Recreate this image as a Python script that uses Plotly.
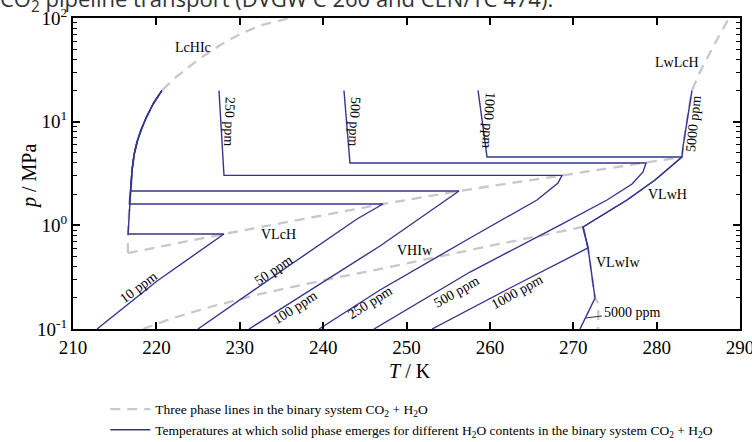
import plotly.graph_objects as go

# ---------------- data (T in K, p in MPa) ----------------
# solid branch along the LcHIc line (shared by 10, 50, 100 ppm)
lchic_T = [216.60, 216.76, 216.91, 217.08, 217.32, 217.68, 218.16, 218.76, 219.60, 220.67]
lchic_p = [0.825, 1.606, 2.144, 3.418, 4.77, 6.37, 8.31, 10.85, 14.8, 20.0]

# low-pressure branches (frost lines) of each H2O content
diag10_T = [228.11, 220.08, 212.88]
diag10_p = [0.825, 0.2904, 0.1]
diag50_T = [247.18, 244.06, 236.03, 224.99]
diag50_p = [1.606, 1.151, 0.4143, 0.1]
diag100_T = [256.30, 252.82, 246.82, 231.11]
diag100_p = [2.144, 1.374, 0.632, 0.1]
diag250_T = [268.65, 268.17, 265.65, 257.62, 246.82, 239.51]
diag250_p = [3.03, 2.561, 1.755, 0.755, 0.2378, 0.1]
diag500_T = [278.73, 278.37, 277.05, 274.05, 268.41, 257.62, 246.10]
diag500_p = [3.99, 3.27, 2.504, 1.755, 1.007, 0.3546, 0.1]
diag1000_T = [271.77, 262.41, 253.06]
diag1000_p = [0.605, 0.2486, 0.1]

# high-pressure (liquid CO2) branches
up250_T = [227.51, 228.11]
up250_p = [20.0, 3.03]
up500_T = [242.50, 243.22]
up500_p = [20.0, 3.99]
up1000_T = [258.58, 259.66]
up1000_p = [20.0, 4.56]
up5000_T = [284.24, 283.64, 283.16, 283.04]
up5000_p = [20.0, 10.4, 5.69, 4.56]

# VLwH and VLwIw segments (shared by 1000 / 5000 ppm)
vlwh_T = [283.04, 279.81, 276.45, 271.17]
vlwh_p = [4.56, 2.737, 1.755, 0.964]
vlwiw_T = [271.17, 271.77, 272.61, 270.81]
vlwiw_p = [0.964, 0.605, 0.199, 0.1]

# three phase lines of the binary system CO2 + H2O
g_lchic_T = [216.58] + lchic_T + [222.23, 224.03, 225.83, 227.87, 230.03, 232.67, 236.03]
g_lchic_p = [0.54] + lchic_p + [26.4, 34.4, 44.0, 56.1, 70.1, 85.6, 100.0]
g_vlch_T = [216.58, 228.11, 247.18, 256.30, 268.65, 278.73, 283.04]
g_vlch_p = [0.54, 0.825, 1.606, 2.144, 3.03, 3.99, 4.56]
g_lwlch_T = [283.04, 283.16, 283.64, 284.24, 285.08, 285.92, 286.88, 287.83, 288.68]
g_lwlch_p = [4.56, 5.69, 10.4, 20.0, 28.8, 39.3, 54.9, 74.9, 100.0]
g_vhiw_T = [218.40, 221.63, 226.43, 232.43, 239.63, 247.42, 258.82, 271.17]
g_vhiw_p = [0.1, 0.1249, 0.1630, 0.2176, 0.2904, 0.388, 0.605, 0.964]
g_vlwi_T = [271.17, 271.77, 272.61, 273.0, 273.0]
g_vlwi_p = [0.964, 0.605, 0.199, 0.178, 0.1]

x_ticks = [210, 220, 230, 240, 250, 260, 270, 280, 290]
y_ticks = [0.1, 1, 10, 100]
y_ticktext = ["10<sup>-1</sup>", "10<sup>0</sup>", "10<sup>1</sup>", "10<sup>2</sup>"]
y_minor = [m * 10 ** e for e in (-1, 0, 1) for m in range(2, 10)]

# ---------------- build paths ----------------
def above(level):
    pts = [(t, p) for t, p in zip(lchic_T, lchic_p) if p >= level - 1e-9]
    pts = pts[::-1]
    return [a for a, _ in pts], [b for _, b in pts]

t10, p10 = above(0.825)
t50, p50 = above(1.606)
t100, p100 = above(2.144)

blue_paths = [
    (t10 + diag10_T, p10 + diag10_p),
    (t50 + diag50_T, p50 + diag50_p),
    (t100 + diag100_T, p100 + diag100_p),
    (up250_T + diag250_T, up250_p + diag250_p),
    (up500_T + diag500_T, up500_p + diag500_p),
    (up1000_T + vlwh_T + diag1000_T, up1000_p + vlwh_p + diag1000_p),
    (up5000_T + vlwh_T + vlwiw_T, up5000_p + vlwh_p + vlwiw_p),
]
gray_paths = [
    (g_lchic_T, g_lchic_p), (g_vlch_T, g_vlch_p), (g_lwlch_T, g_lwlch_p),
    (g_vhiw_T, g_vhiw_p), (g_vlwi_T, g_vlwi_p),
]

BLUE = "#35358f"
GRAY = "#c8c8c8"
SERIF = "Liberation Serif, Times New Roman, serif"

fig = go.Figure()
for i, (tt, pp) in enumerate(gray_paths):
    fig.add_trace(go.Scatter(
        x=tt, y=pp, mode="lines", line=dict(color=GRAY, width=2.3, dash="10px,7px"),
        name="Three phase lines in the binary system CO<sub>2</sub> + H<sub>2</sub>O",
        legendgroup="g", showlegend=(i == 0), hoverinfo="skip"))
for i, (tt, pp) in enumerate(blue_paths):
    fig.add_trace(go.Scatter(
        x=tt, y=pp, mode="lines", line=dict(color=BLUE, width=1.4),
        name="Temperatures at which solid phase emerges for different H<sub>2</sub>O contents in the binary system CO<sub>2</sub> + H<sub>2</sub>O",
        legendgroup="b", showlegend=(i == 0), hoverinfo="skip"))

# ---------------- labels ----------------
region_labels = [
    ("LcHIc", 224.39, 1.720), ("LwLcH", 282.44, 1.566), ("VLcH", 234.59, -0.084),
    ("VHIw", 251.02, -0.238), ("VLwH", 281.25, 0.293), ("VLwIw", 275.37, -0.354),
]
for txt, x, ly in region_labels:
    fig.add_annotation(x=x, y=ly, text=txt, showarrow=False,
                       font=dict(family=SERIF, size=14, color="black"))

ppm_labels = [
    ("10 ppm", 217.80, -0.595, -37), ("50 ppm", 233.99, -0.431, -34),
    ("100 ppm", 236.63, -0.788, -33), ("250 ppm", 245.62, -0.740, -32),
    ("500 ppm", 256.06, -0.643, -30), ("1000 ppm", 263.37, -0.643, -29),
    ("250 ppm", 228.71, 0.997, 92), ("500 ppm", 243.70, 0.997, 93),
    ("1000 ppm", 259.90, 1.016, 94), ("5000 ppm", 284.36, 0.987, -84),
]
for txt, x, ly, ang in ppm_labels:
    fig.add_annotation(x=x, y=ly, text=txt, showarrow=False, textangle=ang,
                       font=dict(family=SERIF, size=14, color="black"))

fig.add_annotation(x=271.53, y=-0.894, text="5000 ppm", showarrow=True,
                   arrowhead=0, arrowwidth=1, arrowcolor="#333", ax=46, ay=-6,
                   standoff=0, font=dict(family=SERIF, size=14, color="black"))

# axis titles
fig.add_annotation(xref="paper", yref="paper", x=0.505, y=-0.135, showarrow=False,
                   xanchor="center", yanchor="middle",
                   text="<i>T</i> / K", font=dict(family=SERIF, size=20, color="black"))
fig.add_annotation(xref="paper", yref="paper", x=-0.0645, y=0.492, showarrow=False,
                   xanchor="center", yanchor="middle",
                   textangle=-90, text="<i>p</i> / MPa",
                   font=dict(family=SERIF, size=20, color="black"))

fig.add_annotation(xref="paper", yref="paper", x=-0.112, y=1.058, xanchor="left",
                   yanchor="middle", showarrow=False,
                   text="CO<sub>2</sub> pipeline transport (DVGW C 260 and CEN/TC 474).",
                   font=dict(family="Open Sans, sans-serif", size=22, color="#333"))

fig.update_layout(
    width=752, height=442,
    margin=dict(l=73, r=12, t=18, b=113, autoexpand=False),
    paper_bgcolor="white", plot_bgcolor="white",
    font=dict(family=SERIF, color="black"),
    legend=dict(xref="container", yref="container", x=0.140, y=0.050,
                xanchor="left", yanchor="middle", itemwidth=40,
                font=dict(family=SERIF, size=13.5), bgcolor="rgba(0,0,0,0)",
                traceorder="grouped", tracegroupgap=0),
)
fig.update_xaxes(range=[210, 290], tickmode="array", tickvals=x_ticks, automargin=False,
                 ticks="inside", ticklen=7, tickwidth=1.5, tickcolor="black",
                 showline=True, linewidth=2, linecolor="black", mirror="ticks",
                 showgrid=False, zeroline=False, tickfont=dict(size=19),
                 ticklabeloverflow="allow", ticklabelstandoff=0)
fig.update_yaxes(type="log", range=[-1, 2], tickmode="array", tickvals=y_ticks,
                 ticktext=y_ticktext, automargin=False, ticklabeloverflow="allow",
                 ticks="inside", ticklen=7, tickwidth=1.5,
                 tickcolor="black", showline=True, linewidth=2, linecolor="black",
                 mirror="ticks", showgrid=False, zeroline=False, tickfont=dict(size=19),
                 minor=dict(tickmode="array", tickvals=y_minor, ticks="inside",
                            ticklen=4, tickwidth=1.2, tickcolor="black", showgrid=False))

fig.write_html("out.html", config={"displayModeBar": False},
               post_script="document.body.style.margin='0';document.body.style.overflow='hidden';")
